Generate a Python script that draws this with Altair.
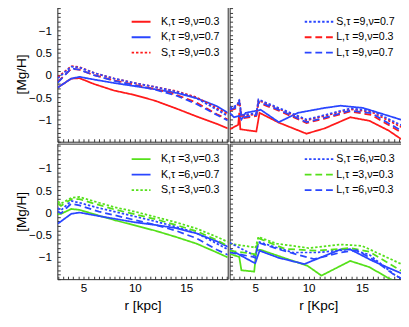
import altair as alt
import pandas as pd
import numpy as np

FONT = "Liberation Sans"

# ---------------- series definitions ----------------
top_series = ["K,τ =9,ν=0.3", "K,τ =9,ν=0.7", "S,τ =9,ν=0.3",
              "S,τ =9,ν=0.7", "L,τ =9,ν=0.3", "L,τ =9,ν=0.7"]
top_colors = ["#ff1a1a", "#2a46ff", "#ff1a1a", "#2a46ff", "#ff1a1a", "#2a46ff"]

bot_series = ["K,τ =3,ν=0.3", "K,τ =6,ν=0.7", "S,τ =3,ν=0.3",
              "S,τ =6,ν=0.3", "L,τ =3,ν=0.3", "L,τ =6,ν=0.3"]
bot_colors = ["#55e01a", "#2a46ff", "#55e01a", "#2a46ff", "#55e01a", "#2a46ff"]

dash_styles = [[1, 0], [1, 0], [2.5, 2], [2.5, 2], [7, 4], [7, 4]]

# ---------------- top-left panel ----------------
r_tl = [2.5, 3.8, 4.6, 6, 8, 10, 12, 14, 16, 18, 19.05]
tl_K9_03 = [-0.28, -0.08, -0.07, -0.2, -0.35, -0.45, -0.58, -0.75, -0.93, -1.1, -1.2]
tl_K9_07 = [-0.28, -0.08, -0.04, -0.1, -0.18, -0.25, -0.32, -0.4, -0.52, -0.7, -0.85]
tl_S9_03 = [-0.05, 0.2, 0.18, 0.05, -0.08, -0.18, -0.27, -0.36, -0.5, -0.75, -0.88]
tl_S9_07 = [-0.07, 0.19, 0.17, 0.05, -0.08, -0.18, -0.27, -0.37, -0.52, -0.78, -0.92]
tl_L9_03 = [-0.15, 0.14, 0.12, 0.0, -0.12, -0.22, -0.32, -0.44, -0.62, -0.88, -1.0]
tl_L9_07 = [-0.17, 0.15, 0.12, 0.0, -0.13, -0.23, -0.33, -0.46, -0.65, -0.9, -1.02]

# ---------------- top-right panel ----------------
r_tr_K9_03 = [2.6, 3.4, 3.5, 3.6, 5.1, 5.4, 7.2, 9.8, 11.5, 13.9, 15.7, 17.5, 18.6, 19.2]
tr_K9_03 = [-1.22, -1.12, -0.85, -1.22, -1.27, -0.85, -1.07, -1.32, -1.2, -0.95, -1.03, -1.25, -1.43, -1.52]
r_tr_K9_07 = [2.6, 3.0, 3.5, 3.7, 4.1, 5.2, 5.5, 7.2, 9.0, 11.5, 13.0, 15.1, 18.6, 19.2]
tr_K9_07 = [-0.85, -0.95, -0.92, -1.0, -0.85, -0.8, -0.78, -1.06, -0.85, -0.74, -0.69, -0.74, -1.0, -1.05]
r_tr_SL = [2.6, 3.3, 3.5, 3.7, 5.1, 5.3, 7.2, 9.8, 11.5, 13.9, 15.9, 18.6, 19.2]
tr_S9_03 = [-0.76, -0.7, -0.57, -0.92, -0.88, -0.57, -0.76, -1.02, -0.92, -0.77, -0.83, -1.16, -1.22]
tr_S9_07 = [-0.74, -0.68, -0.55, -0.9, -0.86, -0.55, -0.74, -1.0, -0.9, -0.75, -0.8, -1.12, -1.18]
tr_L9_03 = [-0.8, -0.74, -0.62, -0.98, -0.92, -0.62, -0.8, -1.08, -0.98, -0.82, -0.9, -1.28, -1.34]
tr_L9_07 = [-0.78, -0.72, -0.6, -0.96, -0.9, -0.6, -0.78, -1.06, -0.96, -0.8, -0.86, -1.24, -1.3]

# ---------------- bottom-left panel ----------------
r_bl = [2.5, 2.8, 3.8, 4.6, 6.5, 8, 10, 12, 14, 16, 18, 19.05]
bl_K3_03 = [-0.04, -0.03, 0.08, 0.06, -0.07, -0.17, -0.29, -0.41, -0.55, -0.7, -0.9, -1.01]
bl_K6_07 = [-0.25, -0.2, -0.03, 0.0, -0.08, -0.14, -0.22, -0.28, -0.35, -0.47, -0.65, -0.77]
bl_S3_03 = [0.25, 0.2, 0.33, 0.35, 0.22, 0.12, 0.02, -0.1, -0.22, -0.36, -0.55, -0.66]
bl_S6_03 = [0.1, 0.05, 0.26, 0.22, 0.1, 0.02, -0.09, -0.2, -0.32, -0.46, -0.7, -0.83]
bl_L3_03 = [0.2, 0.15, 0.3, 0.3, 0.17, 0.07, -0.04, -0.15, -0.28, -0.42, -0.62, -0.75]
bl_L6_03 = [0.03, -0.02, 0.2, 0.16, 0.02, -0.06, -0.17, -0.28, -0.41, -0.58, -0.84, -0.95]

# ---------------- bottom-right panel ----------------
r_br_K3_03 = [2.6, 3.5, 3.7, 4.9, 5.1, 5.5, 7.2, 9.9, 11.2, 13.9, 15.7, 17.5, 18.6, 19.2]
br_K3_03 = [-0.93, -1.0, -1.3, -1.33, -0.85, -0.84, -0.98, -1.2, -1.42, -1.09, -1.23, -1.48, -1.6, -1.65]
r_br_K6_07 = [2.6, 4.8, 5.0, 5.4, 7.2, 9.6, 13.0, 13.9, 16.0, 18.6, 19.2]
br_K6_07 = [-0.83, -1.12, -1.14, -0.86, -1.02, -1.16, -0.83, -0.83, -1.09, -1.36, -1.42]
r_br_S3_03 = [2.6, 4.8, 5.0, 5.3, 7.0, 10.0, 13.0, 15.0, 18.6, 19.2]
br_S3_03 = [-0.7, -0.78, -0.8, -0.55, -0.7, -0.8, -0.72, -0.75, -1.15, -1.22]
r_br_S6_03 = [2.6, 4.8, 5.0, 5.3, 8.5, 10.8, 13.9, 15.7, 18.1, 19.2]
br_S6_03 = [-0.68, -0.95, -0.98, -0.66, -0.9, -0.9, -0.83, -0.95, -1.41, -1.55]
r_br_L3_03 = [2.6, 4.8, 5.0, 5.3, 7.8, 10.8, 13.9, 15.7, 18.6, 19.2]
br_L3_03 = [-0.86, -0.93, -0.95, -0.58, -0.82, -0.86, -0.8, -0.88, -1.3, -1.38]
r_br_L6_03 = [2.6, 4.8, 5.0, 5.3, 7.5, 10.5, 13.0, 14.5, 16.0, 18.0, 19.2]
br_L6_03 = [-0.9, -1.0, -1.02, -0.68, -0.85, -1.05, -0.9, -0.85, -1.05, -1.4, -1.55]

# ---------------- axis ticks ----------------
y_major = [1, 0.5, 0, -0.5, -1]
y_major_labels = ["−1", "0.5", "0", "−0.5", "−1"]
y_ticks = np.round(np.arange(-1.5, 1.51, 0.1), 2).tolist()
x_major = [5, 10, 15]
x_major_labels = ["5", "10", "15"]
x_ticks = np.round(np.arange(2.5, 19.01, 0.5), 2).tolist()


def label_expr(vals, labels):
    expr = "''"
    for v, l in reversed(list(zip(vals, labels))):
        expr = f"abs(datum.value - ({v})) < 0.01 ? '{l}' : " + expr
    return expr


def frame(pairs, series):
    rows = []
    for (rs, vs), s in zip(pairs, series):
        for i, (r, v) in enumerate(zip(rs, vs)):
            rows.append({"r": r, "v": v, "series": s, "i": i})
    return pd.DataFrame(rows)


df_tl = frame([(r_tl, tl_K9_03), (r_tl, tl_K9_07), (r_tl, tl_S9_03),
               (r_tl, tl_S9_07), (r_tl, tl_L9_03), (r_tl, tl_L9_07)], top_series)
df_tr = frame([(r_tr_K9_03, tr_K9_03), (r_tr_K9_07, tr_K9_07), (r_tr_SL, tr_S9_03),
               (r_tr_SL, tr_S9_07), (r_tr_SL, tr_L9_03), (r_tr_SL, tr_L9_07)], top_series)
df_bl = frame([(r_bl, bl_K3_03), (r_bl, bl_K6_07), (r_bl, bl_S3_03),
               (r_bl, bl_S6_03), (r_bl, bl_L3_03), (r_bl, bl_L6_03)], bot_series)
df_br = frame([(r_br_K3_03, br_K3_03), (r_br_K6_07, br_K6_07), (r_br_S3_03, br_S3_03),
               (r_br_S6_03, br_S6_03), (r_br_L3_03, br_L3_03), (r_br_L6_03, br_L6_03)], bot_series)

Y_DOM = [-1.5, 1.55]
H = 140

# legend line symbols (custom paths, scaled by sqrt(symbolSize))
SYM_LEFT = "M-1.5,0H1.5"
SYM_RIGHT = "M-2.3,0H2.3"


def panel(df, series, colors, legend_vals, xdom, width, left, bottom, xtitle, lx, sym, loff):
    if left:
        yaxis = alt.Axis(values=y_ticks, labelExpr=label_expr(y_major, y_major_labels),
                         tickSize=3, offset=-3, domain=False, grid=False,
                         labelPadding=6, title="[Mg/H]", titlePadding=0)
    else:
        yaxis = alt.Axis(values=y_ticks, labels=False, tickSize=3, offset=-3,
                         domain=False, grid=False, title=None)
    if bottom:
        xaxis = alt.Axis(values=x_ticks, labelExpr=label_expr(x_major, x_major_labels),
                         tickSize=3, offset=-3, domain=False, grid=False,
                         labelPadding=4, title=xtitle, titlePadding=5)
    else:
        xaxis = alt.Axis(values=x_ticks, labels=False, tickSize=3, offset=-3,
                         domain=False, grid=False, title=None)
    leg = alt.Legend(values=legend_vals, orient="none", legendX=lx, legendY=8.5, title=None,
                     symbolType=sym, symbolSize=169, symbolStrokeWidth=2,
                     labelOffset=loff, rowPadding=3, labelFontSize=11, labelFont=FONT,
                     labelColor="black", padding=0)
    return alt.Chart(df).mark_line(strokeWidth=1.8, clip=True).encode(
        x=alt.X("r:Q", scale=alt.Scale(domain=xdom, nice=False, zero=False), axis=xaxis),
        y=alt.Y("v:Q", scale=alt.Scale(domain=Y_DOM, nice=False, zero=False), axis=yaxis),
        color=alt.Color("series:N", scale=alt.Scale(domain=series, range=colors), legend=leg),
        strokeDash=alt.StrokeDash("series:N", scale=alt.Scale(domain=series, range=dash_styles), legend=leg),
        order="i:Q",
    ).properties(width=width, height=H)


tl = panel(df_tl, top_series, top_colors, top_series[:3], [2.45, 19.05], 176, True, False, None, 79, SYM_LEFT, 13)
tr = panel(df_tr, top_series, top_colors, top_series[3:], [2.6, 19.2], 183, False, False, None, 85, SYM_RIGHT, 10)
bl = panel(df_bl, bot_series, bot_colors, bot_series[:3], [2.45, 19.05], 176, True, True, "r [kpc]", 79, SYM_LEFT, 13)
br = panel(df_br, bot_series, bot_colors, bot_series[3:], [2.6, 19.2], 183, False, True, "r [Kpc]", 85, SYM_RIGHT, 10)

chart = alt.concat(tl, tr, bl, br, columns=2, spacing=0).resolve_scale(
    color="independent", strokeDash="independent"
).properties(
    padding={"left": 6, "top": -8, "right": -7, "bottom": 0}
).configure_view(
    stroke="#222", strokeWidth=1
).configure_axis(
    labelFont=FONT, titleFont=FONT, labelColor="black", titleColor="black",
    tickColor="#333", labelFontSize=12, titleFontSize=14, titleFontWeight="normal"
)

chart.save("out.html", embed_options={"renderer": "svg", "actions": False})
